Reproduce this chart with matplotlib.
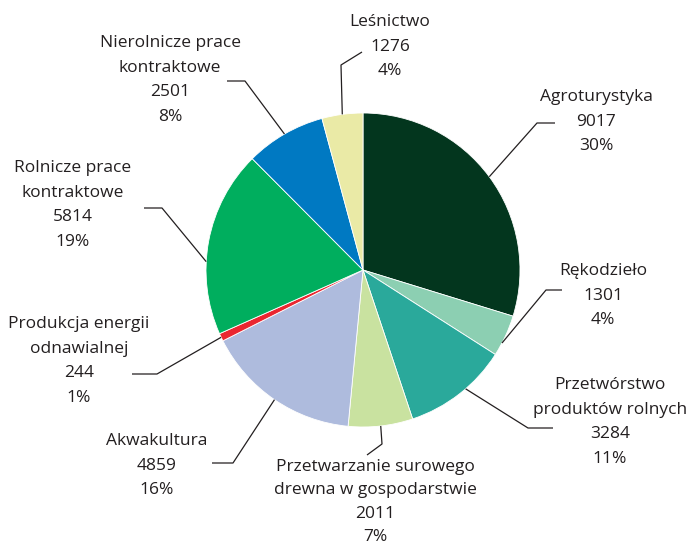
import matplotlib
matplotlib.use("Agg")
import matplotlib.pyplot as plt
import numpy as np

categories = ["Agroturystyka", "Rękodzieło", "Przetwórstwo\nproduktów rolnych",
              "Przetwarzanie surowego\ndrewna w gospodarstwie", "Akwakultura",
              "Produkcja energii\nodnawialnej", "Rolnicze prace\nkontraktowe",
              "Nierolnicze prace\nkontraktowe", "Leśnictwo"]
values = [9017, 1301, 3284, 2011, 4859, 244, 5814, 2501, 1276]
colors = ["#03361e", "#8ccfb2", "#2aa99b", "#c9e2a0", "#aebbdd",
          "#ea2630", "#00ae5e", "#0079c2", "#eaeaa6"]

# layout (pixel coords, y downward): text centre x, text top y, elbow, end of leader
label_x = [596, 603, 610, 375, 157, 79, 73, 170, 390]
label_top = [89, 263, 377, 459, 433, 316, 160, 35, 14]
label_spacing = [1.72, 1.72, 1.72, 1.62, 1.72, 1.72, 1.72, 1.72, 1.72]
elbow = [(537, 123), (546, 290), (528, 428), (382, 444), (233, 463),
         (157, 374), (162, 208), (245, 81), (341, 65)]
line_end = [(555, 123), (562, 290), (553, 428), (367, 455), (212, 463),
            (132, 374), (144, 208), (227, 81), (362, 52)]
# small shift of leader anchor along the rim (fraction of full circle)
anchor_shift = [0, 0.008, -0.008, 0, 0, 0, -0.021, 0, 0]

W, H = 690, 546
cx, cy, R = 363, 270, 157

plt.rcParams['font.family'] = ['Open Sans', 'DejaVu Sans']
fig = plt.figure(figsize=(W / 100, H / 100), dpi=100)
ax = fig.add_axes([0, 0, 1, 1])

wedges, _ = ax.pie(values, colors=colors, startangle=90, counterclock=False,
                   center=(cx, H - cy), radius=R, frame=True,
                   wedgeprops=dict(edgecolor='white', linewidth=0.6))
ax.set_xlim(0, W)
ax.set_ylim(0, H)
ax.set_aspect('equal')
ax.axis('off')

total = sum(values)
cum = np.cumsum([0] + values)
for i, (name, v) in enumerate(zip(categories, values)):
    mid = ((cum[i] + cum[i + 1]) / 2 / total + anchor_shift[i]) * 2 * np.pi
    sx = cx + R * np.sin(mid)
    sy = cy - R * np.cos(mid)
    pts = [(sx, sy), elbow[i], line_end[i]]
    xs = [p[0] for p in pts]
    ys = [H - p[1] for p in pts]
    ax.plot(xs, ys, color='#231f20', lw=0.9, solid_capstyle='butt')
    pct = round(v / total * 100)
    ax.text(label_x[i], H - label_top[i], f"{name}\n{v}\n{pct}%",
            ha='center', va='top', fontsize=12.5, color='#231f20',
            linespacing=label_spacing[i])

fig.savefig("out.png", dpi=100)
